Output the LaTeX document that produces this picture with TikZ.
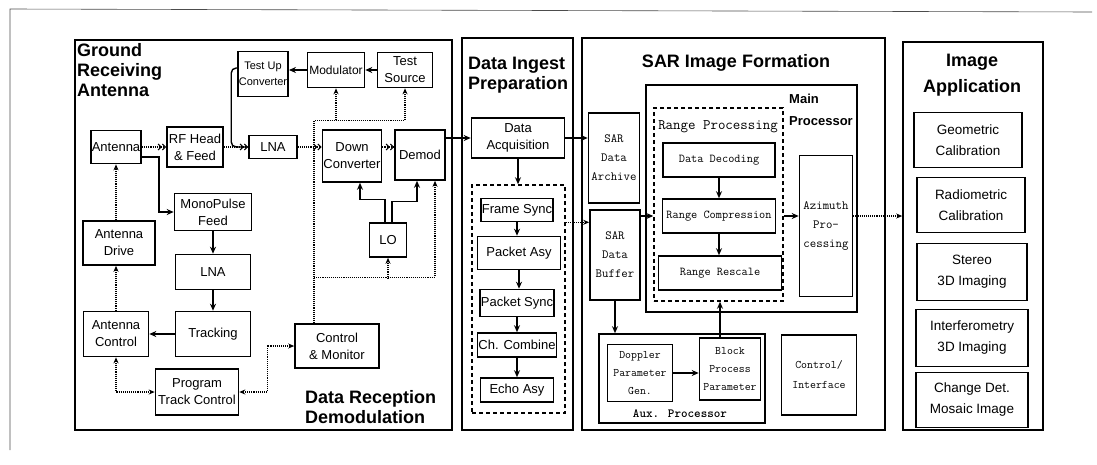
\documentclass[tikz,border=0pt]{standalone}
\usepackage{fontspec}
\setsansfont{Liberation Sans}
\usepackage{tikz}
\usetikzlibrary{positioning,arrows.meta,calc}

\begin{document}
\begin{tikzpicture}[
    x=1pt, y=-1pt,
    font={\sffamily\fontsize{13}{17}\selectfont},
    panel/.style={draw,line width=1.6pt,inner sep=0pt},
    block/.style={draw,line width=1.6pt,inner sep=1pt,align=center},
    tblock/.style={block,font={\ttfamily\fontsize{12.5}{19}\selectfont}},
    appblock/.style={block,font={\sffamily\fontsize{13.5}{21}\selectfont}},
    group/.style={draw,line width=1.5pt,dash pattern=on 4pt off 3pt,inner sep=0pt},
    title/.style={font={\sffamily\bfseries\fontsize{18}{20}\selectfont},align=left,inner sep=0pt},
    flow/.style={-{Stealth[length=7pt,width=6pt]},line width=1.4pt},
    signal/.style={densely dotted,line width=1.1pt,-{Straight Barb[length=3pt,width=6pt]Straight Barb[length=3pt,width=6pt]}},
    ctrl/.style={densely dotted,line width=1.1pt,-{Stealth[length=6pt,width=5pt]}},
    ctrlboth/.style={ctrl,{Stealth[length=6pt,width=5pt]}-{Stealth[length=6pt,width=5pt]}},
]
    \useasboundingbox (0,0) rectangle (1097,464);
    \draw[line width=0.6pt,black!70] (10,450) -- (10,9) -- (1092,12);

    % Panels
    \node[panel,minimum width=377pt,minimum height=390pt] (ground) at (263.5,235) {};
    \node[panel,minimum width=111pt,minimum height=392pt] (ingestpanel) at (517.5,234) {};
    \node[panel,minimum width=303pt,minimum height=392pt] (sar) at (733.5,234) {};
    \node[panel,minimum width=140pt,minimum height=388pt] (app) at (973,236) {};

    % Titles
    \node[title,anchor=north west] (groundtitle) at (77,43) {Ground\\Receiving\\Antenna};
    \node[title,anchor=north west] (demodtitle) at (305,390) {Data Reception\\Demodulation};
    \node[title,anchor=north west] (ingesttitle) at (468,57) {Data Ingest\\Preparation};
    \node[title] (sartitle) at (736,63) {SAR Image Formation};
    \node[title,align=center,font={\sffamily\bfseries\fontsize{18}{26}\selectfont}] (apptitle) at (972,75) {Image\\Application};

    % Ground receiving antenna
    \node[block,minimum width=48pt,minimum height=33pt] (antenna) at (116,147) {Antenna};
    \node[block,minimum width=56pt,minimum height=40pt] (rfhead) at (195,147) {RF Head\\\& Feed};
    \node[block,minimum width=48pt,minimum height=23pt] (lnaA) at (273,147) {LNA};
    \node[block,minimum width=47pt,minimum height=45pt,font={\sffamily\fontsize{11}{16}\selectfont}] (tuc) at (263,74) {Test Up\\Converter};
    \node[block,minimum width=57pt,minimum height=35pt,font={\sffamily\fontsize{12}{16}\selectfont}] (mod) at (336,70) {Modulator};
    \node[block,minimum width=55pt,minimum height=35pt] (tsrc) at (405,70) {Test\\Source};
    \node[block,minimum width=59pt,minimum height=52pt] (downconv) at (352,156) {Down\\Converter};
    \node[block,minimum width=50pt,minimum height=50pt] (demod) at (420,155) {Demod};
    \node[block,minimum width=77pt,minimum height=37pt] (mono) at (213,212) {MonoPulse\\Feed};
    \node[block,minimum width=37pt,minimum height=34pt] (lo) at (388,240) {LO};
    \node[block,minimum width=72pt,minimum height=44pt] (antdrive) at (119,243) {Antenna\\Drive};
    \node[block,minimum width=75pt,minimum height=35pt] (lnaB) at (213,272) {LNA};
    \node[block,minimum width=75pt,minimum height=45pt] (tracking) at (213,334) {Tracking};
    \node[block,minimum width=65pt,minimum height=45pt] (antctrl) at (116,334) {Antenna\\Control};
    \node[block,minimum width=84pt,minimum height=44pt] (cm) at (337,346) {Control\\\& Monitor};
    \node[block,minimum width=83pt,minimum height=46pt] (ptc) at (197,392) {Program\\Track Control};

    % Data ingest
    \node[block,minimum width=93pt,minimum height=40pt] (dacq) at (518,138) {Data\\Acquisition};
    \node[group,minimum width=93pt,minimum height=228pt] (ingest) at (518.5,299) {};
    \node[block,minimum width=72pt,minimum height=23pt] (fsync) at (517,210) {Frame Sync};
    \node[block,minimum width=83pt,minimum height=33pt] (pasy) at (519,253) {Packet Asy};
    \node[block,minimum width=73pt,minimum height=27pt] (psync) at (517,303) {Packet Sync};
    \node[block,minimum width=75pt,minimum height=24pt] (chcomb) at (517,345) {Ch. Combine};
    \node[block,minimum width=73pt,minimum height=24pt] (echo) at (517,390) {Echo Asy};

    % SAR image formation
    \node[block,minimum width=211pt,minimum height=227pt] (mainproc) at (751.5,198.5) {};
    \node[title,anchor=north west,font={\sffamily\bfseries\fontsize{13}{22}\selectfont}] (maintitle) at (789,94) {Main\\Processor};
    \node[group,minimum width=129pt,minimum height=193pt] (rproc) at (718.5,204.5) {};
    \node[font={\ttfamily\fontsize{14.5}{16}\selectfont}] (rproclabel) at (718,127) {Range Processing};
    \node[tblock,minimum width=51pt,minimum height=90pt] (archive) at (614,158) {SAR\\Data\\Archive};
    \node[tblock,minimum width=50pt,minimum height=90pt] (buffer) at (615,255) {SAR\\Data\\Buffer};
    \node[tblock,minimum width=112pt,minimum height=34pt,font={\ttfamily\fontsize{12}{14}\selectfont}] (decode) at (719,160) {Data Decoding};
    \node[tblock,minimum width=113pt,minimum height=34pt,font={\ttfamily\fontsize{12}{14}\selectfont}] (rcomp) at (719,216) {Range Compression};
    \node[tblock,minimum width=123pt,minimum height=34pt,font={\ttfamily\fontsize{12}{14}\selectfont}] (rresc) at (720,273) {Range Rescale};
    \node[tblock,minimum width=53pt,minimum height=141pt] (azimuth) at (826,226) {Azimuth\\Pro-\\cessing};
    \node[block,minimum width=166pt,minimum height=89pt] (aux) at (682,378.5) {};
    \node[tblock,minimum width=65pt,minimum height=57pt,font={\ttfamily\fontsize{11.5}{18}\selectfont}] (doppler) at (640,373) {Doppler\\Parameter\\Gen.};
    \node[tblock,minimum width=61pt,minimum height=62pt,font={\ttfamily\fontsize{11.5}{18}\selectfont}] (bpp) at (730,369) {Block\\Process\\Parameter};
    \node[font={\ttfamily\bfseries\fontsize{12.5}{14}\selectfont}] (auxlabel) at (680,414) {Aux. Processor};
    \node[tblock,minimum width=75pt,minimum height=80pt,font={\ttfamily\fontsize{11.5}{20}\selectfont}] (ctrlif) at (819,375) {Control/\\Interface};

    % Image application
    \node[appblock,minimum width=108pt,minimum height=55pt] (geo) at (968,140) {Geometric\\Calibration};
    \node[appblock,minimum width=108pt,minimum height=55pt] (radio) at (971,205) {Radiometric\\Calibration};
    \node[appblock,minimum width=110pt,minimum height=57pt] (stereo) at (972,272) {Stereo\\3D Imaging};
    \node[appblock,minimum width=112pt,minimum height=57pt] (interf) at (972,338) {Interferometry\\3D Imaging};
    \node[appblock,minimum width=112pt,minimum height=55pt] (change) at (972,400) {Change Det.\\Mosaic Image};

    % Signal chain
    \draw[signal] (antenna) -- (rfhead);
    \draw[signal] (rfhead) -- (lnaA);
    \draw[signal] (lnaA) -- (lnaA -| downconv.west);
    \draw[signal] (downconv.east |- lnaA) -- (demod.west |- lnaA);
    \draw[line width=1.4pt,rounded corners=5pt] ([yshift=6pt]tuc.west) -| ($(lnaA.west)+(-17,0)$) -- (lnaA.west);
    \draw[flow] (tsrc) -- (mod);
    \draw[flow] (mod.west) -- (mod.west -| tuc.east);
    \draw[flow] (lo.north) ++(-3,0) -- ++(0,-23) -| ([xshift=8pt]downconv.south);
    \draw[flow] (lo.north) ++(4,0) -- ++(0,-21) -| ([xshift=-3pt]demod.south);
    \draw[flow] (demod.east |- dacq) -- (dacq);

    % Tracking loop
    \draw[flow] ([yshift=-10pt]antenna.east) -- ++(17,0) |- (mono.west);
    \draw[flow] (mono) -- (lnaB);
    \draw[flow] (lnaB) -- (tracking);
    \draw[flow] (tracking) -- (antctrl);
    \draw[ctrl] (antctrl.north) -- (antctrl.north |- antdrive.south);
    \draw[ctrl] (antenna.south |- antdrive.north) -- (antenna.south);
    \draw[ctrlboth] (antctrl.south) |- (ptc.west);
    \draw[ctrlboth] (ptc.east) -- ++(28,0) |- (cm.west);

    % Control & monitor bus
    \draw[ctrl] ([xshift=-23pt]cm.north) |- ($(tsrc.south)+(0,32)$) -- (tsrc.south);
    \draw[ctrl] ($(mod.south)+(0,32)$) -- (mod.south);
    \draw[ctrl] ($(cm.north)+(-23,-46)$) -| ([xshift=15pt]demod.south);
    \draw[ctrl] ($(lo.south)+(0,21)$) -- (lo.south);

    % Ingest
    \draw[flow] (dacq.south) -- (dacq.south |- ingest.north);
    \foreach \a/\b in {fsync/pasy,pasy/psync,psync/chcomb,chcomb/echo}
        \draw[flow] (\a.south) -- (\a.south |- \b.north);
    \draw[flow] (dacq.east) -- (dacq.east -| archive.west);
    \draw[ctrl] (ingest.east |- fsync.south) -- (buffer.west |- fsync.south);

    % Image formation
    \draw[flow] (buffer.east |- rcomp) -- (rproc.west |- rcomp);
    \draw[flow] (decode.south) -- (decode.south |- rcomp.north);
    \draw[flow] (rcomp.south) -- (rcomp.south |- rresc.north);
    \draw[flow] (rproc.east |- rcomp) -- (azimuth.west |- rcomp);
    \draw[ctrl] (azimuth.east |- rcomp) -- (app.west |- rcomp);
    \draw[flow] (buffer.south) -- (buffer.south |- aux.north);
    \draw[flow] (doppler) -- (doppler -| bpp.west);
    \draw[flow] ($(bpp.north)+(-10,0)$) -- ($(bpp.north |- rproc.south)+(-10,0)$);

\end{tikzpicture}
\end{document}
